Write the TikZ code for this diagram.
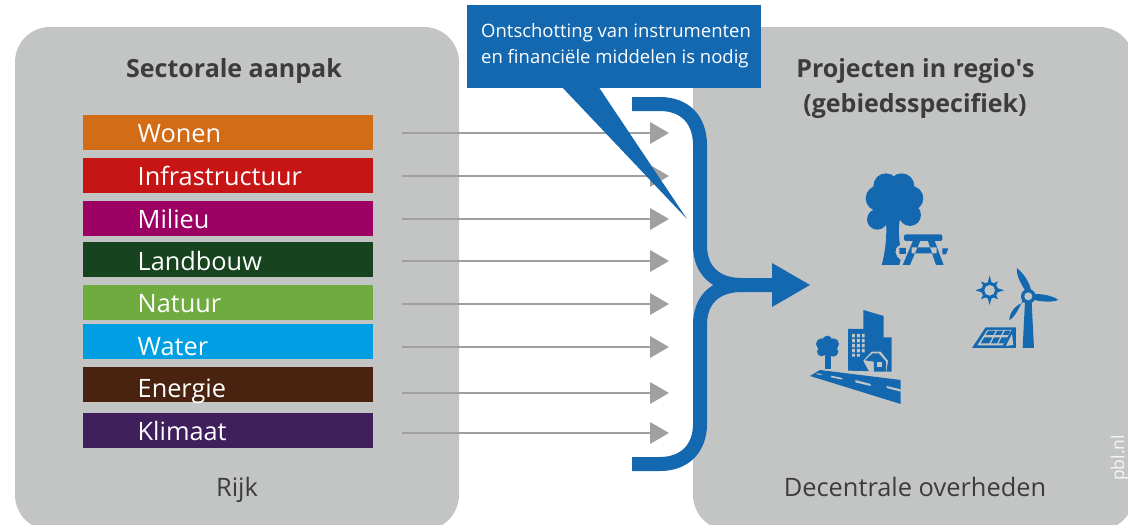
\documentclass[tikz,border=0pt]{standalone}
\usepackage{fontspec}
\setmainfont{Open Sans}
\newfontfamily\rechtfont{Open Sans}
\usepackage{tikz}
\definecolor{vlak}{HTML}{C3C5C5}
\definecolor{pblblauw}{HTML}{1468B0}
\definecolor{pijl}{HTML}{A0A0A0}
\definecolor{tekst}{HTML}{3C3C3C}
\definecolor{wonen}{HTML}{D36C17}
\definecolor{infra}{HTML}{C71414}
\definecolor{milieu}{HTML}{9B0062}
\definecolor{landbouw}{HTML}{17431F}
\definecolor{natuur}{HTML}{6FAB3F}
\definecolor{water}{HTML}{009FE3}
\definecolor{energie}{HTML}{4A2310}
\definecolor{klimaat}{HTML}{3F1F5C}
\tikzset{
  vlakbox/.style={fill=vlak,rounded corners=35pt,minimum height=503pt,inner sep=0pt},
  sector/.style={minimum width=290pt,minimum height=35pt,inner sep=0pt},
  sectortekst/.style={anchor=base west,inner sep=0pt,text=white,font=\fontsize{25.3}{25.3}\selectfont},
  kop/.style={anchor=base,inner sep=0pt,text=tekst,font=\fontsize{25}{25}\selectfont\bfseries},
  voet/.style={anchor=base,inner sep=0pt,text=tekst,font=\fontsize{25.4}{25.4}\selectfont},
  balloon/.style={anchor=base west,inner sep=0pt,text=white,font=\fontsize{18.5}{18.5}\selectfont},
  grijspijl/.style={draw=pijl,line width=2.4pt},
  grijskop/.style={fill=pijl},
  band/.style={draw=pblblauw,line width=14pt},
  icoon/.style={fill=pblblauw}
}
\begin{document}
\begin{tikzpicture}[x=1pt,y=-1pt]
\useasboundingbox (0,0) rectangle (1128,525);
\clip (0,0) rectangle (1128,525);
\node[vlakbox,minimum width=444pt] (rijk) at (237,278.5) {};
\node[vlakbox,minimum width=441pt] (regio) at (913.5,278.5) {};
\node[kop] (kopl) at (234,77) {Sectorale aanpak};
\node[kop] (kopr) at (915.5,77) {Projecten in regio{\rechtfont\bfseries '}s};
\node[kop] (kopr2) at (915,112) {(gebiedsspecifiek)};
\node[voet] (voetl) at (237,496) {Rijk};
\node[voet] (voetr) at (915,496) {Decentrale overheden};
\node[rotate=90,anchor=base west,inner sep=0pt,text=white!85!vlak,font=\fontsize{17.5}{17.5}\selectfont] (pbl) at (1124,481) {pbl.nl};

\foreach \naam/\tint/\ymid/\ytekst in {Wonen/wonen/132/142,Infrastructuur/infra/175/185,Milieu/milieu/218/228,Landbouw/landbouw/259/270,Natuur/natuur/302/312,Water/water/341/355,Energie/energie/384/397,Klimaat/klimaat/430/440}{
  \node[sector,fill=\tint] (bar-\tint) at (228,\ymid) {};
  \node[sectortekst] (lab-\tint) at (137.5,\ytekst) {\naam};
}
\foreach \tint/\yp in {wonen/133,infra/176,milieu/219,landbouw/261,natuur/304,water/347,energie/393,klimaat/433}{
  \coordinate (van-\tint) at (402,\yp);
  \coordinate (naar-\tint) at (652,\yp);
  \draw[grijspijl] (van-\tint) -- (naar-\tint);
  \fill[grijskop] (650,\yp-11) -- (669,\yp) -- (650,\yp+11) -- cycle;
}

\fill[pblblauw] (561,86) -- (687,219) -- (598,86) -- cycle;
\node[fill=pblblauw,minimum width=294pt,minimum height=83pt,inner sep=0pt] (ballon) at (614,46.5) {};
\node[balloon] (bal1) at (481,37) {Ontschotting van instrumenten};
\node[balloon] (bal2) at (481,63) {en financiële middelen is nodig};

\coordinate (boven) at (632,104);
\coordinate (onder) at (632,464);
\coordinate (samen) at (774,285);
\draw[band] (boven) -- (660,104) .. controls (685,104) and (700,120) .. (700,145) -- (700,245) .. controls (700,270) and (715,285) .. (742,285) -- (samen);
\draw[band] (onder) -- (660,464) .. controls (685,464) and (700,448) .. (700,424) -- (700,325) .. controls (700,300) and (715,285) .. (742,285);
\fill[icoon] (772,263) -- (810,285) -- (772,307) -- cycle;

% boom met picknicktafel
\begin{scope}[shift={(780,160)},x=0.3333pt,y=-0.3333pt]
\fill[icoon] (318,78) circle (38) (365,78) circle (38) (295,115) circle (38) (393,115) circle (37) (292,178) circle (31) (390,165) circle (33) (345,125) circle (58);
\fill[icoon] (312,150) .. controls (325,200) and (318,270) .. (305,315) -- (358,315) -- (362,300) .. controls (345,290) and (338,265) .. (360,255) .. controls (355,220) and (355,190) .. (365,150) -- cycle;
\fill[icoon,rounded corners=2pt] (372,223) rectangle (487,243);
\fill[icoon] (358,264) rectangle (378,282) (487,265) -- (505,265) -- (498,283) -- (487,283) -- cycle;
\fill[icoon] (400,240) -- (422,240) -- (390,315) -- (368,315) -- cycle (443,240) -- (463,240) -- (491,315) -- (468,315) -- cycle (395,262) rectangle (470,280);
\end{scope}

% stad met weg
\begin{scope}[shift={(780,160)},x=0.3333pt,y=-0.3333pt]
\fill[icoon] (142,542) circle (15) (125,552) circle (17) (160,552) circle (17) (125,575) circle (14) (160,575) circle (15) (142,562) circle (22);
\fill[icoon] (135,570) rectangle (153,628);
\fill[icoon] (250,450) -- (311,468) -- (311,532) -- (335,532) -- (335,635) -- (204,632) -- (204,507) -- (250,507) -- cycle;
\fill[vlak] (216,522) rectangle (225,532) (216,537) rectangle (225,547) (216,552) rectangle (225,562) (216,567) rectangle (225,577) (216,582) rectangle (225,590);
\fill[vlak] (231,522) rectangle (240,532) (231,537) rectangle (240,547) (231,552) rectangle (240,562) (231,567) rectangle (240,577) (231,582) rectangle (240,590);
\fill[vlak] (246,522) rectangle (254,532) (246,537) rectangle (254,547) (246,552) rectangle (254,562) (246,567) rectangle (254,577);
\fill[vlak] (250,602) -- (275,575) -- (302,575) -- (324,603) -- (318,640) -- (270,640) -- cycle;
\fill[icoon] (255,601) -- (278,580) -- (296,580) -- (318,605) -- (318,635) -- (282,635) -- (282,605) -- cycle;
\fill[vlak] (290,607) rectangle (306,622);
\fill[icoon] (90,648) -- (120,630) -- (362,660) -- (362,732) -- cycle;
\fill[vlak] (110,640) -- (125,642) -- (125,645) -- (110,643) -- cycle (153,647) -- (187,654) -- (187,659) -- (153,652) -- cycle (226,660) -- (272,672) -- (272,678) -- (226,667) -- cycle (320,678) -- (362,688) -- (362,695) -- (320,684) -- cycle;
\end{scope}

% zon, molen en zonnepaneel
\begin{scope}[shift={(780,160)},x=0.3333pt,y=-0.3333pt]
\fill[icoon] (629,347) -- (636,372) -- (654,364) -- (646,382) -- (672,391) -- (646,399) -- (654,418) -- (636,410) -- (629,435) -- (622,410) -- (603,418) -- (612,399) -- (586,391) -- (612,382) -- (603,364) -- (622,372) -- cycle;
\fill[icoon] (629,391) circle (25);
\fill[vlak] (629,391) circle (16);
\fill[icoon] (735,425) -- (728,564) -- (762,564) -- (755,425) -- cycle;
\fill[icoon] (745,409) circle (22);
\fill[vlak] (745,409) circle (12);
\fill[icoon] (736,392) .. controls (722,370) and (708,345) .. (711,324) .. controls (730,340) and (748,365) .. (753,390) -- cycle;
\fill[icoon] (766,402) .. controls (790,402) and (820,408) .. (835,420) .. controls (815,428) and (785,425) .. (762,420) -- cycle;
\fill[icoon] (728,420) .. controls (718,445) and (705,470) .. (688,481) .. controls (688,460) and (705,432) .. (738,425) -- cycle;
\fill[icoon] (617,502) -- (708,502) -- (708,564) -- (576,564) -- cycle;
\fill[vlak] (622,510) -- (695,510) -- (668,556) -- (592,556) -- cycle (696,522) -- (700,555) -- (678,558) -- cycle;
\fill[icoon] (625,512) -- (647,512) -- (640,525) -- (617,525) -- cycle (652,512) -- (670,512) -- (663,525) -- (645,525) -- cycle (675,512) -- (692,512) -- (685,525) -- (668,525) -- cycle;
\fill[icoon] (613,532) -- (637,532) -- (628,550) -- (602,550) -- cycle (642,532) -- (660,532) -- (651,550) -- (633,550) -- cycle (665,532) -- (682,532) -- (672,550) -- (656,550) -- cycle;
\end{scope}
\end{tikzpicture}
\end{document}
